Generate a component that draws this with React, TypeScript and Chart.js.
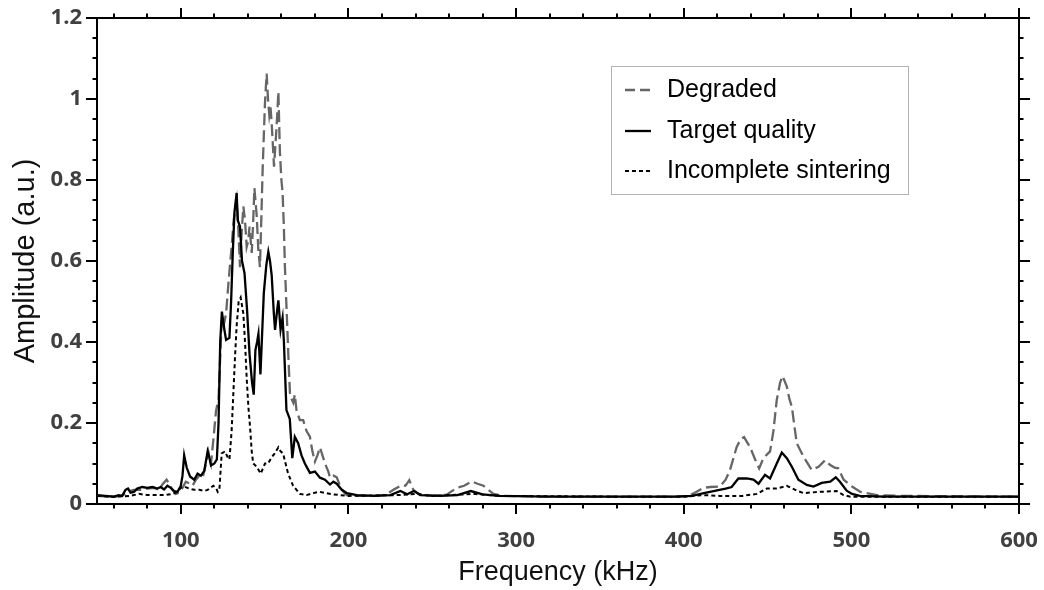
import React, { useEffect, useRef } from 'react';
import { Chart, registerables } from 'chart.js';

Chart.register(...registerables);

// ---------- data ----------
const degradedFreq = [50, 60, 65, 68, 72, 76, 80, 84, 87, 89, 91.5, 93, 95, 97, 99, 101, 103, 105.5, 107, 109, 111, 113, 114.5, 116.4, 118, 119.4, 121, 122.5, 124.4, 125.5, 127, 128.5, 130.3, 131.5, 133.3, 134.3, 135.3, 136.3, 137.3, 138.3, 139.3, 140.2, 141, 142.3, 143.2, 143.9, 145.3, 146.2, 147.2, 148, 148.8, 149.6, 150.2, 151.2, 152, 152.8, 153.5, 154.2, 155, 155.6, 156.8, 157.5, 158.2, 159.1, 160, 160.7, 161.5, 162.1, 163.5, 164.3, 165.1, 166, 167.1, 168, 169, 171, 173, 175, 177, 178.5, 180, 181.5, 183, 184.5, 186, 188, 189, 191, 193, 195, 197, 199, 205, 215, 222, 226.8, 231.8, 234, 236.3, 238.7, 242.7, 250, 258.6, 264.6, 269, 273.5, 277, 280.5, 286.5, 292, 320, 360, 395, 403, 407.7, 411.7, 416, 421.6, 425, 427.6, 431.6, 434, 436, 439.6, 442.6, 445, 447.5, 451.5, 453.5, 455.5, 457.5, 459, 461.5, 463, 464.5, 467.4, 471.4, 476.4, 480.4, 484.3, 487.4, 490, 492.2, 495.4, 500.4, 505.4, 515.3, 530, 600];
const degradedAmp = [0.02, 0.018, 0.02, 0.03, 0.035, 0.035, 0.038, 0.04, 0.035, 0.048, 0.06, 0.05, 0.035, 0.025, 0.028, 0.04, 0.055, 0.05, 0.045, 0.06, 0.07, 0.065, 0.09, 0.13, 0.1, 0.158, 0.23, 0.26, 0.455, 0.44, 0.47, 0.55, 0.635, 0.7, 0.75, 0.68, 0.585, 0.67, 0.735, 0.7, 0.635, 0.65, 0.685, 0.62, 0.7, 0.78, 0.71, 0.63, 0.585, 0.7, 0.825, 0.92, 0.99, 1.063, 1.0, 0.96, 0.98, 0.94, 0.88, 0.833, 0.91, 0.96, 1.018, 0.87, 0.8, 0.77, 0.68, 0.585, 0.438, 0.35, 0.274, 0.26, 0.25, 0.27, 0.232, 0.207, 0.207, 0.18, 0.166, 0.13, 0.105, 0.12, 0.14, 0.12, 0.1, 0.08, 0.065, 0.07, 0.066, 0.045, 0.03, 0.022, 0.02, 0.02, 0.022, 0.035, 0.047, 0.045, 0.059, 0.035, 0.023, 0.02, 0.023, 0.04, 0.045, 0.056, 0.05, 0.045, 0.025, 0.02, 0.018, 0.018, 0.018, 0.02, 0.03, 0.04, 0.042, 0.043, 0.06, 0.084, 0.141, 0.16, 0.165, 0.14, 0.11, 0.088, 0.113, 0.13, 0.18, 0.257, 0.3, 0.316, 0.29, 0.26, 0.24, 0.15, 0.117, 0.084, 0.092, 0.108, 0.096, 0.09, 0.088, 0.06, 0.043, 0.03, 0.022, 0.02, 0.018];

const targetFreq = [50, 55, 60, 63, 65, 67, 68.5, 70, 72, 74, 77, 80, 83, 86, 88, 90, 92, 94, 96, 98, 100, 101, 102, 103.5, 105.5, 108, 110, 112, 114, 116, 117, 118, 120, 121.5, 122.5, 123.5, 124.5, 126, 127, 129, 130, 131, 132, 133.3, 134, 135.3, 136.5, 138, 139.5, 141, 142.5, 143.5, 144.5, 145.5, 146.3, 147.5, 148.5, 149.5, 151, 152.2, 153.2, 154.2, 155.5, 156.2, 157.5, 158.2, 159.5, 160.7, 161.5, 163, 165, 166.5, 168, 170, 172, 174, 177, 180, 183, 186, 189, 191, 193, 196, 199, 205, 215, 225, 231, 235, 239, 243, 255, 265, 273, 280, 290, 320, 360, 395, 405, 410, 415.6, 425, 428.6, 432.6, 437.6, 441.6, 444.6, 448.5, 451.5, 455.5, 458.5, 461.5, 464.5, 468.4, 473.4, 477.4, 482.3, 487.4, 490.7, 493.2, 497.2, 500.4, 505, 520, 600];
const targetAmp = [0.022, 0.02, 0.018, 0.022, 0.02, 0.035, 0.038, 0.028, 0.03, 0.038, 0.042, 0.04, 0.042, 0.038, 0.042, 0.036, 0.045, 0.04, 0.032, 0.03, 0.045, 0.07, 0.12, 0.09, 0.068, 0.06, 0.075, 0.07, 0.082, 0.13, 0.115, 0.095, 0.1, 0.11, 0.2, 0.4, 0.475, 0.43, 0.405, 0.41, 0.5, 0.62, 0.72, 0.768, 0.7, 0.685, 0.6, 0.57, 0.48, 0.37, 0.3, 0.27, 0.38, 0.4, 0.42, 0.32, 0.42, 0.52, 0.59, 0.623, 0.6, 0.565, 0.47, 0.43, 0.48, 0.503, 0.43, 0.46, 0.4, 0.232, 0.21, 0.113, 0.166, 0.15, 0.12, 0.1, 0.077, 0.08, 0.065, 0.06, 0.048, 0.055, 0.05, 0.035, 0.027, 0.022, 0.02, 0.022, 0.032, 0.024, 0.032, 0.022, 0.02, 0.022, 0.032, 0.024, 0.02, 0.018, 0.018, 0.018, 0.02, 0.025, 0.03, 0.038, 0.042, 0.063, 0.063, 0.06, 0.05, 0.072, 0.063, 0.1, 0.127, 0.113, 0.092, 0.06, 0.047, 0.043, 0.052, 0.055, 0.066, 0.055, 0.033, 0.025, 0.02, 0.018, 0.018];

const incompleteFreq = [50, 60, 70, 75, 80, 85, 90, 95, 98, 100, 102, 105, 108, 111, 114, 116, 119.4, 121, 122, 123, 124.4, 126.4, 128, 129, 130.3, 131.3, 132.3, 133.3, 134.5, 135.7, 136.5, 137.3, 138.3, 139.3, 140.3, 141.3, 142.3, 143.2, 145.3, 147.7, 150.2, 152, 154.2, 156, 158.2, 159.5, 161, 162.5, 164, 167, 171, 175, 180, 183, 190, 200, 230, 240, 250, 275, 290, 360, 400, 411.7, 421.6, 435, 443.6, 449.5, 455.5, 461.5, 467.4, 471.4, 481.3, 491.2, 495.3, 499.4, 600];
const incompleteAmp = [0.02, 0.018, 0.02, 0.025, 0.022, 0.022, 0.022, 0.025, 0.03, 0.04, 0.043, 0.038, 0.035, 0.035, 0.032, 0.035, 0.045, 0.04, 0.03, 0.035, 0.125, 0.13, 0.115, 0.11, 0.18, 0.27, 0.36, 0.44, 0.5, 0.51, 0.49, 0.47, 0.4, 0.31, 0.24, 0.19, 0.13, 0.1, 0.092, 0.075, 0.1, 0.1, 0.115, 0.125, 0.14, 0.13, 0.125, 0.1, 0.075, 0.045, 0.025, 0.022, 0.028, 0.03, 0.024, 0.02, 0.022, 0.025, 0.02, 0.025, 0.02, 0.018, 0.018, 0.022, 0.02, 0.02, 0.025, 0.038, 0.038, 0.045, 0.033, 0.027, 0.03, 0.032, 0.022, 0.018, 0.018];

const seriesLabels = ['Degraded', 'Target quality', 'Incomplete sintering'];
const xMajorTicks = [100, 200, 300, 400, 500, 600];
const yMajorTicks = [0, 0.2, 0.4, 0.6, 0.8, 1, 1.2];
const xRange = [50, 600];
const yRange = [0, 1.2];
const xMinorStep = 20;
const yMinorStep = 0.05;

// ---------- styles ----------
const GRAY = '#666666';
const SANS = "'Liberation Sans', Arial, sans-serif";
const TICK_FONT = { family: "'Open Sans', sans-serif", size: 22, weight: 'bold' as const };
const XTITLE_FONT = { family: SANS, size: 27 };
const YTITLE_FONT = { family: SANS, size: 29 };
const LEGEND_FONT_SIZE = 25;
const datasetStyles = [
  { borderColor: GRAY, borderWidth: 2.3, borderDash: [12, 5] },
  { borderColor: '#000000', borderWidth: 2.3, borderDash: [] as number[] },
  { borderColor: '#000000', borderWidth: 2, borderDash: [4, 3] },
];

const toPoints = (xs: number[], ys: number[]) => xs.map((x, i) => ({ x, y: ys[i] }));

const tickMarksPlugin = {
  id: 'tickMarks',
  afterDraw(chart: any) {
    const { ctx, chartArea: a, scales } = chart;
    const xs = scales.x;
    const ys = scales.y;
    const MAJ = 10;
    const MIN = 4.5;
    ctx.save();
    ctx.strokeStyle = '#000';
    ctx.lineWidth = 2;
    ctx.beginPath();
    const nx = Math.round((xRange[1] - xRange[0]) / xMinorStep);
    for (let i = 0; i <= nx; i++) {
      const v = xRange[0] + 10 + i * xMinorStep;
      if (v > xRange[1]) break;
      const major = xMajorTicks.some((t) => Math.abs(t - v) < 1e-6);
      const len = major ? MAJ : MIN;
      const px = Math.round(xs.getPixelForValue(v));
      ctx.moveTo(px, a.bottom);
      ctx.lineTo(px, a.bottom + len);
      ctx.moveTo(px, a.top);
      ctx.lineTo(px, a.top - len);
    }
    const ny = Math.round((yRange[1] - yRange[0]) / yMinorStep);
    for (let i = 0; i <= ny; i++) {
      const v = yRange[0] + i * yMinorStep;
      const major = yMajorTicks.some((t) => Math.abs(t - v) < 1e-6);
      const len = major ? MAJ + 1 : MIN;
      const py = Math.round(ys.getPixelForValue(v));
      ctx.moveTo(a.left, py);
      ctx.lineTo(a.left - len, py);
      ctx.moveTo(a.right, py);
      ctx.lineTo(a.right + len, py);
    }
    ctx.stroke();
    ctx.restore();
  },
};

const legendBoxPlugin = {
  id: 'legendBox',
  afterDraw(chart: any) {
    const { ctx } = chart;
    const box = { x: 611.5, y: 66.5, w: 297, h: 128 };
    const rows = [90, 131, 171];
    ctx.save();
    ctx.strokeStyle = '#666';
    ctx.lineWidth = 1;
    ctx.setLineDash([1, 1]);
    ctx.strokeRect(box.x, box.y, box.w, box.h);
    chart.data.datasets.forEach((ds: any, i: number) => {
      const y = rows[i];
      ctx.beginPath();
      ctx.strokeStyle = ds.borderColor;
      ctx.lineWidth = ds.borderWidth;
      ctx.setLineDash(i === 0 ? [10, 5] : ds.borderDash || []);
      ctx.moveTo(625, y);
      ctx.lineTo(651, y);
      ctx.stroke();
      ctx.setLineDash([]);
      ctx.fillStyle = '#000';
      ctx.font = `${LEGEND_FONT_SIZE}px ${SANS}`;
      ctx.textAlign = 'left';
      ctx.textBaseline = 'middle';
      ctx.fillText(ds.label, 667, y);
    });
    ctx.restore();
  },
};

const fmt = (v: number) => String(+Number(v).toFixed(1));

export default function App() {
  const ref = useRef<HTMLCanvasElement | null>(null);
  useEffect(() => {
    if (!ref.current) return;
    const dataSets = [
      toPoints(degradedFreq, degradedAmp),
      toPoints(targetFreq, targetAmp),
      toPoints(incompleteFreq, incompleteAmp),
    ];
    const chart = new Chart(ref.current, {
      type: 'line',
      data: {
        datasets: dataSets.map((d, i) => ({
          label: seriesLabels[i],
          data: d,
          ...datasetStyles[i],
          pointRadius: 0,
          tension: 0,
          fill: false,
          order: 2 - i,
        })),
      },
      options: {
        animation: false,
        responsive: false,
        devicePixelRatio: 1,
        layout: { padding: 0 },
        plugins: { legend: { display: false }, tooltip: { enabled: false } },
        scales: {
          x: {
            type: 'linear',
            position: 'bottom',
            min: xRange[0],
            max: xRange[1],
            afterBuildTicks: (s: any) => { s.ticks = xMajorTicks.map((value) => ({ value })); },
            afterFit: (s: any) => { s.height = 86; s.paddingLeft = 0; s.paddingRight = 0; },
            grid: { display: false, drawTicks: false },
            border: { display: true, color: '#000', width: 2 },
            ticks: { font: TICK_FONT, color: '#404040', padding: 24, maxRotation: 0, callback: (v: any) => fmt(v) },
            title: { display: true, text: 'Frequency (kHz)', font: XTITLE_FONT, color: '#111', padding: { top: 0, bottom: 1 } },
          },
          x2: {
            type: 'linear',
            position: 'top',
            min: xRange[0],
            max: xRange[1],
            afterFit: (s: any) => { s.height = 18; s.paddingLeft = 0; s.paddingRight = 0; },
            grid: { display: false, drawTicks: false },
            border: { display: true, color: '#000', width: 2 },
            ticks: { display: false },
          },
          y: {
            type: 'linear',
            position: 'left',
            min: yRange[0],
            max: yRange[1],
            afterBuildTicks: (s: any) => { s.ticks = yMajorTicks.map((value) => ({ value })); },
            afterFit: (s: any) => { s.width = 97; s.paddingTop = 0; s.paddingBottom = 0; },
            grid: { display: false, drawTicks: false },
            border: { display: true, color: '#000', width: 2 },
            ticks: { font: TICK_FONT, color: '#404040', padding: 15, callback: (v: any) => fmt(v) },
            title: { display: true, text: 'Amplitude (a.u.)', font: YTITLE_FONT, color: '#111', padding: { top: 9, bottom: 0 } },
          },
          y2: {
            type: 'linear',
            position: 'right',
            min: yRange[0],
            max: yRange[1],
            afterFit: (s: any) => { s.width = 25; s.paddingTop = 0; s.paddingBottom = 0; },
            grid: { display: false, drawTicks: false },
            border: { display: true, color: '#000', width: 2 },
            ticks: { display: false },
          },
        },
      } as any,
      plugins: [tickMarksPlugin, legendBoxPlugin],
    });
    return () => chart.destroy();
  }, []);
  return (
    <div style={{ position: 'absolute', left: 0, top: 0, width: 1044, height: 590, background: '#fff' }}>
      <canvas ref={ref} width={1044} height={590} style={{ display: 'block', width: 1044, height: 590 }} />
    </div>
  );
}
